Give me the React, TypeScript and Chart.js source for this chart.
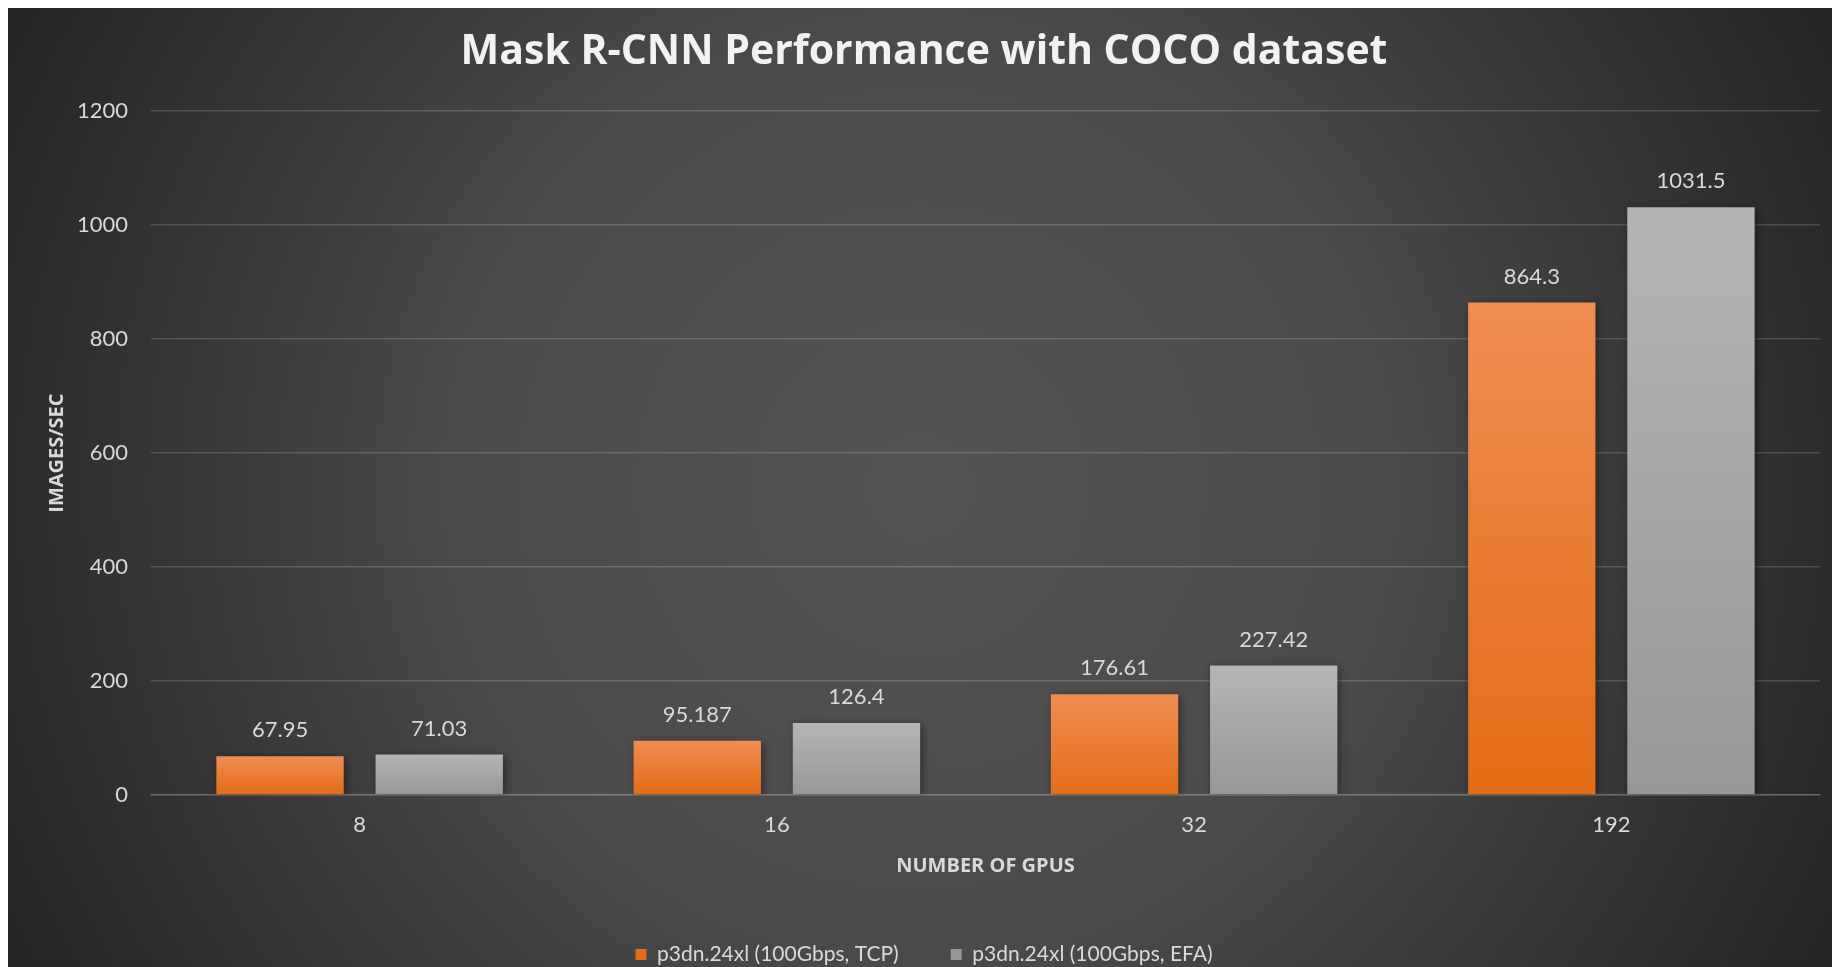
import React, { useEffect, useRef } from "react";
import { Chart, registerables } from "chart.js";

Chart.register(...registerables);

const categories = ["8", "16", "32", "192"];
const tcpValues = [67.95, 95.187, 176.61, 864.3];
const efaValues = [71.03, 126.4, 227.42, 1031.5];
const seriesNames = ["p3dn.24xl (100Gbps, TCP)", "p3dn.24xl (100Gbps, EFA)"];
const yTicks = [0, 200, 400, 600, 800, 1000, 1200];

const FONT = "Lato, 'Open Sans', sans-serif";
const BOLD_FONT = "'Open Sans', Lato, sans-serif";

function barGradient(ctx: any, top: string, bottom: string, solid: string) {
  const chart = ctx.chart;
  const y = chart.scales && chart.scales.y;
  if (ctx.type !== "data" || !y) return solid;
  const v = ctx.raw as number;
  const yt = y.getPixelForValue(v);
  const yb = y.getPixelForValue(0);
  if (!isFinite(yt) || !isFinite(yb) || yt === yb) return solid;
  const g = chart.ctx.createLinearGradient(0, yt, 0, yb);
  g.addColorStop(0, top);
  g.addColorStop(1, bottom);
  return g;
}

const backgroundPlugin = {
  id: "bgGradient",
  beforeDraw(chart: any) {
    const { ctx, width, height } = chart;
    ctx.save();
    const cx = width * 0.5;
    const cy = height * 0.5;
    const r = Math.sqrt(cx * cx + cy * cy);
    const g = ctx.createRadialGradient(cx, cy, 0, cx, cy, r);
    g.addColorStop(0, "#535353");
    g.addColorStop(0.45, "#4a4a4a");
    g.addColorStop(1, "#232323");
    ctx.fillStyle = g;
    ctx.fillRect(0, 0, width, height);
    ctx.restore();
  },
};

const shadowPlugin = {
  id: "barShadow",
  beforeDatasetsDraw(chart: any) {
    const ctx = chart.ctx;
    ctx.save();
    ctx.shadowColor = "rgba(0,0,0,0.45)";
    ctx.shadowBlur = 8;
    ctx.shadowOffsetX = 2;
    ctx.shadowOffsetY = 2;
  },
  afterDatasetsDraw(chart: any) {
    chart.ctx.restore();
  },
};

const valueLabelPlugin = {
  id: "valueLabels",
  afterDraw(chart: any) {
    const ctx = chart.ctx;
    ctx.save();
    ctx.font = `22px ${FONT}`;
    ctx.fillStyle = "#d9d9d9";
    ctx.textAlign = "center";
    ctx.textBaseline = "middle";
    chart.data.datasets.forEach((ds: any, i: number) => {
      const meta = chart.getDatasetMeta(i);
      meta.data.forEach((el: any, j: number) => {
        ctx.fillText(String(ds.data[j]), el.x, el.y - 26);
      });
    });
    ctx.restore();
  },
};

export default function App() {
  const ref = useRef<HTMLCanvasElement | null>(null);

  useEffect(() => {
    document.body.style.overflow = "hidden";
    const canvas = ref.current;
    if (!canvas) return;
    const chart = new Chart(canvas, {
      type: "bar",
      data: {
        labels: categories,
        datasets: [
          {
            label: seriesNames[0],
            data: tcpValues,
            backgroundColor: (c: any) => barGradient(c, "#f08d52", "#e46c16", "#ed7d31"),
            borderWidth: 0,
            categoryPercentage: 0.763,
            barPercentage: 0.8,
          },
          {
            label: seriesNames[1],
            data: efaValues,
            backgroundColor: (c: any) => barGradient(c, "#b5b5b5", "#979797", "#a5a5a5"),
            borderWidth: 0,
            categoryPercentage: 0.763,
            barPercentage: 0.8,
          },
        ],
      },
      options: {
        animation: false,
        responsive: true,
        maintainAspectRatio: false,
        layout: { padding: { left: 20, right: 12, top: 0, bottom: -8 } },
        plugins: {
          title: {
            display: true,
            text: "Mask R-CNN Performance with COCO dataset",
            color: "#f2f2f2",
            font: { family: BOLD_FONT, size: 41, weight: "bold", lineHeight: 1.2 },
            padding: { top: 20, bottom: 34 },
          },
          legend: {
            position: "bottom",
            labels: {
              color: "#d9d9d9",
              font: { family: FONT, size: 21 },
              boxWidth: 11,
              boxHeight: 11,
              padding: 52,
            },
          },
          tooltip: { enabled: false },
        },
        scales: {
          x: {
            grid: { display: false, drawTicks: false },
            border: { display: true, color: "rgba(255,255,255,0.16)", width: 1.5 },
            ticks: { color: "#d9d9d9", font: { family: FONT, size: 22 }, padding: 17 },
            title: {
              display: true,
              text: "NUMBER OF GPUS",
              color: "#d9d9d9",
              font: { family: BOLD_FONT, size: 20, weight: "bold", lineHeight: 1.2 },
              padding: { top: 0, bottom: 14 },
            },
            afterFit: (s: any) => {
              s.height = 97;
            },
          },
          y: {
            min: 0,
            max: 1200,
            afterBuildTicks: (s: any) => {
              s.ticks = yTicks.map((v) => ({ value: v }));
            },
            grid: { color: "rgba(255,255,255,0.16)", lineWidth: 1.5, drawTicks: false },
            border: { display: false },
            ticks: {
              color: "#d9d9d9",
              font: { family: FONT, size: 22 },
              padding: 23,
              callback: (v: any) => String(v),
            },
            title: {
              display: true,
              text: "IMAGES/SEC",
              color: "#d9d9d9",
              font: { family: BOLD_FONT, size: 20, weight: "bold", lineHeight: 1.2 },
              padding: { top: 17, bottom: 0 },
            },
            afterFit: (s: any) => {
              s.width = 123;
            },
          },
        },
      },
      plugins: [backgroundPlugin, shadowPlugin, valueLabelPlugin],
    });
    return () => chart.destroy();
  }, []);

  return (
    <div style={{ position: "fixed", left: 8, top: 8, right: 0, bottom: 0 }}>
      <canvas ref={ref} />
    </div>
  );
}
